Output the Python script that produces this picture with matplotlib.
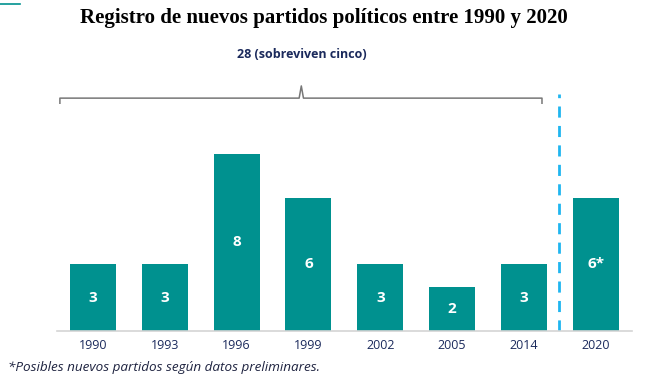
import matplotlib

matplotlib.use("Agg")
import matplotlib.pyplot as plt

years = ["1990", "1993", "1996", "1999", "2002", "2005", "2014", "2020"]
counts = [3, 3, 8, 6, 3, 2, 3, 6]
labels = ["3", "3", "8", "6", "3", "2", "3", "6*"]

TEAL = "#00918f"
NAVY = "#1b2a5c"
SKY = "#1fb5f0"
SANS = "Open Sans"

fig = plt.figure(figsize=(6.48, 3.92), dpi=100)
ax = fig.add_axes([0.088, 0.1556, 0.887, 0.645])

x = list(range(len(years)))
ax.bar(x, counts, width=0.64, color=TEAL, zorder=2)
for xi, c, lab in zip(x, counts, labels):
    ax.text(xi, c / 2, lab, ha="center", va="center", color="white",
            fontsize=11, fontweight="bold", family=SANS)

ax.set_xlim(-0.5, 7.5)
ax.set_ylim(0, 11.4)
ax.set_xticks(x)
ax.set_xticklabels(years, color=NAVY, fontsize=9, family=SANS)
ax.tick_params(axis="x", length=0, pad=6)
ax.set_yticks([])
for side in ["top", "right", "left"]:
    ax.spines[side].set_visible(False)
ax.spines["bottom"].set_color("#d4d4d4")
ax.spines["bottom"].set_linewidth(1.2)

# separator between historical and preliminary data
ax.plot([6.49, 6.49], [0, 10.7], color=SKY, linestyle=(0, (4, 3)), linewidth=2, zorder=1)

# curly bracket over 1990-2014
bx0, bx1, bmid = -0.46, 6.25, 2.9
by, bend, btip = 10.5, 10.27, 11.05
ax.plot([bx0, bx0, bmid - 0.03, bmid, bmid + 0.03, bx1, bx1],
        [bend, by, by, btip, by, by, bend],
        color="#777777", linewidth=1.1, clip_on=False)

fig.text(0.5, 0.955, "Registro de nuevos partidos políticos entre 1990 y 2020",
         ha="center", va="center", family="Liberation Serif", fontweight="bold",
         fontsize=15)
fig.text(302 / 648, 1 - 55 / 392, "28 (sobreviven cinco)", ha="center", va="center",
         color=NAVY, fontsize=9, fontweight="bold", family=SANS)
fig.text(8 / 648, 1 - 368 / 392, "*Posibles nuevos partidos según datos preliminares.",
         ha="left", va="center", color="#1e2340", fontsize=9.7, style="italic",
         family=SANS)
fig.add_artist(plt.Line2D([0, 20 / 648], [1 - 4 / 392, 1 - 4 / 392], color=TEAL, linewidth=1.2))

fig.savefig("out.png", dpi=100)
